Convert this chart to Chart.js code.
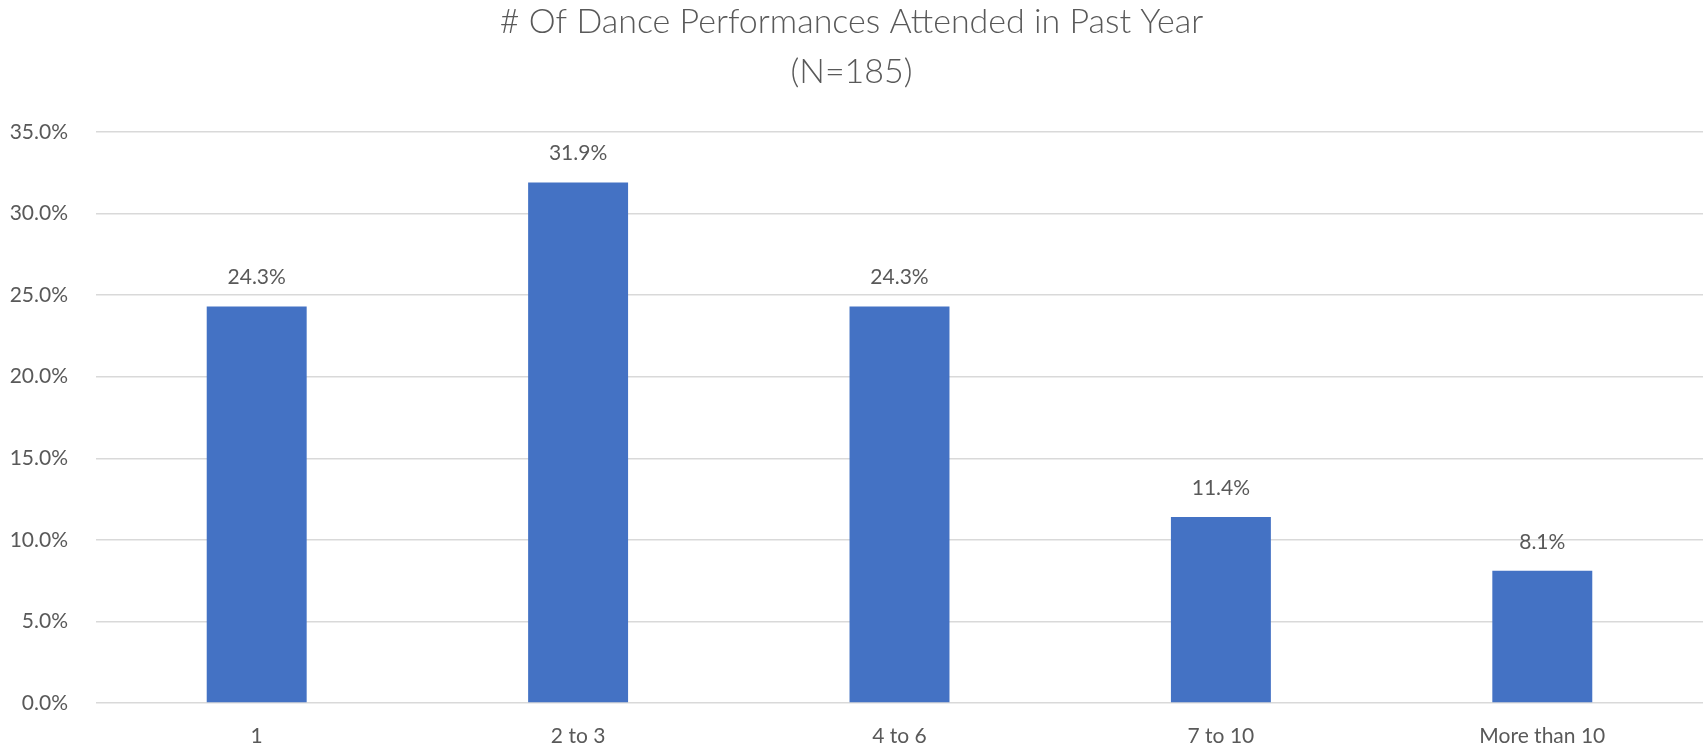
<!DOCTYPE html>
<html>
<head>
<meta charset="utf-8">
<script src="https://cdn.jsdelivr.net/npm/chart.js@4/dist/chart.umd.min.js"></script>
<style>
  html, body { margin: 0; padding: 0; background: #ffffff; }
  #wrap { width: 1703px; height: 752px; }
</style>
</head>
<body>
<div id="wrap"><canvas id="c" width="1703" height="752"></canvas></div>
<script>
const categories = ["1", "2 to 3", "4 to 6", "7 to 10", "More than 10"];
const percentValues = [24.3, 31.9, 24.3, 11.4, 8.1];
const titleLines = ["# Of Dance Performances Attended in Past Year", "(N=185)"];
const yTickStep = 5;
const yMax = 35;

const textColor = "#595959";
const fontFamily = "Lato, 'Open Sans', sans-serif";

const valueLabels = {
  id: "valueLabels",
  afterDatasetsDraw(chart) {
    const ctx = chart.ctx;
    const meta = chart.getDatasetMeta(0);
    ctx.save();
    ctx.font = "21px " + fontFamily;
    ctx.fillStyle = textColor;
    ctx.textAlign = "center";
    ctx.textBaseline = "middle";
    meta.data.forEach((bar, i) => {
      ctx.fillText(percentValues[i].toFixed(1) + "%", bar.x, bar.y - 29);
    });
    ctx.restore();
  }
};

new Chart(document.getElementById("c"), {
  type: "bar",
  data: {
    labels: categories,
    datasets: [{
      data: percentValues,
      backgroundColor: "#4472C4",
      borderWidth: 0,
      categoryPercentage: 1.0,
      barPercentage: 0.311
    }]
  },
  options: {
    responsive: false,
    animation: false,
    devicePixelRatio: 1,
    layout: { padding: { left: 0, right: 0, top: 0, bottom: 0 } },
    plugins: {
      legend: { display: false },
      tooltip: { enabled: false },
      title: {
        display: true,
        text: titleLines,
        color: textColor,
        font: { family: fontFamily, size: 34, weight: "300", lineHeight: 1.47 },
        padding: { top: -3, bottom: 35 }
      }
    },
    scales: {
      x: {
        offset: true,
        grid: { display: false, drawTicks: false },
        border: { display: false },
        ticks: { color: textColor, font: { family: fontFamily, size: 21 }, padding: 21, maxRotation: 0 },
        afterFit(scale) { scale.height = 49; }
      },
      y: {
        min: 0,
        max: yMax,
        grid: { color: "#D9D9D9", lineWidth: 1.5, drawTicks: false },
        border: { display: false },
        ticks: {
          stepSize: yTickStep,
          color: textColor,
          font: { family: fontFamily, size: 21 },
          padding: 28,
          callback: v => v.toFixed(1) + "%"
        },
        afterFit(scale) { scale.width = 96; }
      }
    }
  },
  plugins: [valueLabels]
});
</script>
</body>
</html>
